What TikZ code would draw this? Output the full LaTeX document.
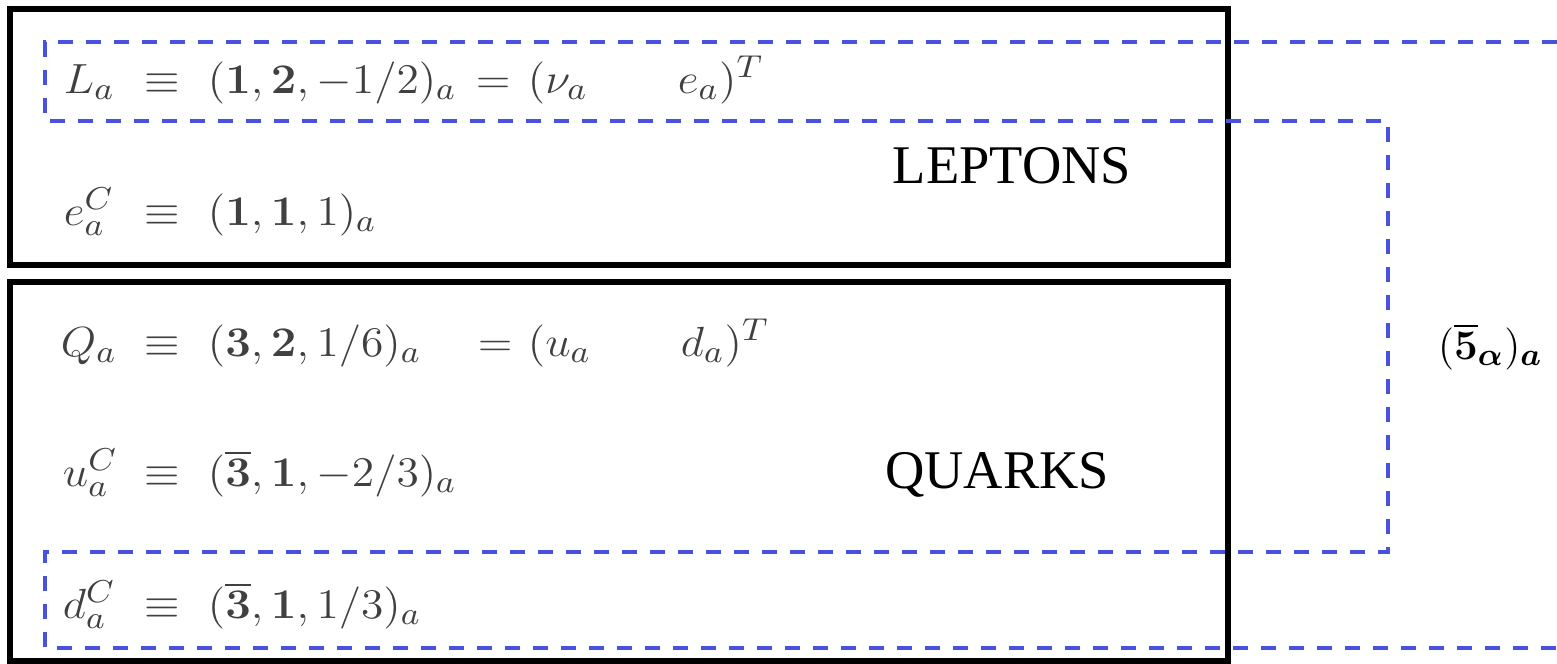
\documentclass[tikz,border=0pt]{standalone}
\usepackage{amsmath,bm,graphicx}
\usepackage[no-math]{fontspec}
\newfontfamily\timesfont{Liberation Serif}
\definecolor{fiveblue}{RGB}{72,82,222}
% the field table is set a little wide
\newcommand{\fld}[1]{\scalebox{1.08}[1]{$#1$}}

\begin{document}
\begin{tikzpicture}[x=0.1mm, y=-0.1mm, line width=1.7pt,
		field/.style={anchor=base west, inner sep=0pt, text=black!75,
			font=\fontsize{13}{15}\selectfont},
		sector/.style={anchor=base, inner sep=0pt,
			font=\timesfont\fontsize{15.5}{18}\selectfont},
		multiplet/.style={draw=fiveblue, line width=0.9pt,
			dash pattern=on 1.5mm off 1.3mm}]
	\useasboundingbox (0,0) rectangle (1557,663);

	% Frames round the lepton and the quark fields.
	\draw (10,9) rectangle (1228,265);
	\draw (10,282) rectangle (1228,661);
	\node[sector] (leptons) at (1012,183) {LEPTONS};
	\node[sector] (quarks) at (997,488) {QUARKS};

	% Lepton fields.
	\node[field] (La) at (61,93) {\fld{L_a}};
	\node[field] (eqvL) at (142,93) {\fld{\equiv}};
	\node[field] (repL) at (205,93) {\fld{(\mathbf{1},\mathbf{2},-1/2)_a}};
	\node[field] (isL) at (473,93) {\fld{=}};
	\node[field] (nu) at (525,93) {\fld{(\nu_a}};
	\node[field] (el) at (675,93) {\fld{e_a)^T}};

	\node[field] (ec) at (61,225) {\fld{e_a^C}};
	\node[field] (eqvE) at (142,225) {\fld{\equiv}};
	\node[field] (repE) at (205,225) {\fld{(\mathbf{1},\mathbf{1},1)_a}};

	% Quark fields.
	\node[field] (Qa) at (58,356) {\fld{Q_a}};
	\node[field] (eqvQ) at (142,356) {\fld{\equiv}};
	\node[field] (repQ) at (205,356) {\fld{(\mathbf{3},\mathbf{2},1/6)_a}};
	\node[field] (isQ) at (475,356) {\fld{=}};
	\node[field] (up) at (525,356) {\fld{(u_a}};
	\node[field] (down) at (678,356) {\fld{d_a)^T}};

	\node[field] (uc) at (60,486) {\fld{u_a^C}};
	\node[field] (eqvU) at (142,486) {\fld{\equiv}};
	\node[field] (repU) at (205,486) {\fld{(\overline{\mathbf{3}},\mathbf{1},-2/3)_a}};

	\node[field] (dc) at (60,618) {\fld{d_a^C}};
	\node[field] (eqvD) at (142,618) {\fld{\equiv}};
	\node[field] (repD) at (205,618) {\fld{(\overline{\mathbf{3}},\mathbf{1},1/3)_a}};

	% The antifundamental multiplet collects L and d^C.
	\draw[multiplet] (1557,42) -- (45,42) -- (45,121) -- (1388,121)
		-- (1388,552) -- (45,552) -- (45,648) -- (1557,648);
	\node[field, text=black, font=\fontsize{12.8}{15}\selectfont] (five) at (1435,359)
		{$(\overline{\mathbf{5}}_{\bm{\alpha}})_{\bm{a}}$};
\end{tikzpicture}
\end{document}
